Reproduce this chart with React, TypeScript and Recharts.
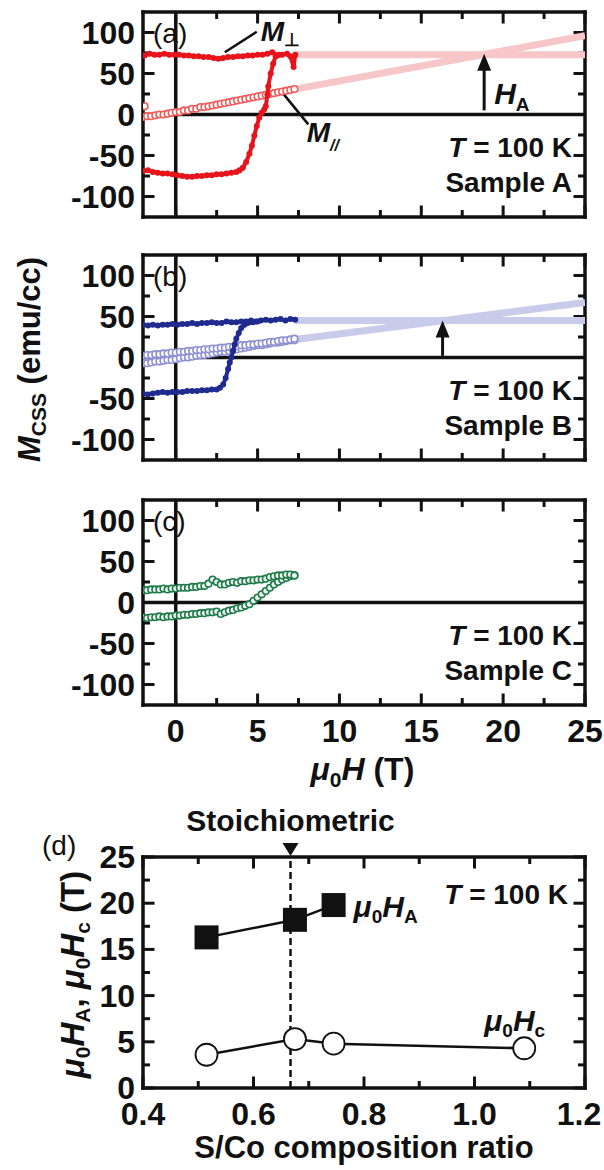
import React from "react";
import { ScatterChart, Scatter, XAxis, YAxis, ReferenceLine, ReferenceDot } from "recharts";

const FONT = "'Liberation Sans', Arial, Helvetica, sans-serif";
const INK = "#111";

// shared axes for panels (a)-(c)
const fieldDomain = [-2, 25];
const momentDomain = [-125, 125];
const fieldTicks = [0, 2.5, 5, 7.5, 10, 12.5, 15, 17.5, 20, 22.5, 25];
const momentTicks = [-100, -75, -50, -25, 0, 25, 50, 75, 100];

// (a) sample A, red
const aDownH = [7.3, 7.2, 7.0, 6.8, 6.5, 6.2, 5.9, 5.6, 5.3, 5.0, 4.7, 4.4, 4.1, 3.8, 3.5, 3.2, 2.9, 2.6, 2.3, 2.0, 1.7, 1.4, 1.1, 0.8, 0.5, 0.2, -0.1, -0.4, -0.7, -1.0, -1.3, -1.6, -1.9, -2.0];
const aDownM = [73, 58, 71, 74, 73, 72, 76, 74, 73, 73, 72, 72, 71, 71, 70, 70, 69, 68, 69, 70, 70, 71, 71, 72, 72, 73, 73, 73, 74, 73, 73, 74, 72, 72];
const aUpH = [-2.0, -1.7, -1.4, -1.1, -0.8, -0.5, -0.2, 0.1, 0.4, 0.7, 1.0, 1.3, 1.6, 1.9, 2.2, 2.5, 2.8, 3.1, 3.4, 3.7, 3.9, 4.1, 4.3, 4.5, 4.65, 4.8, 4.95, 5.1, 5.25, 5.4, 5.5, 5.6, 5.65, 5.8, 5.95, 6.1, 6.3];
const aUpM = [-69, -68, -70, -71, -72, -72, -73, -74, -75, -76, -76, -75, -75, -74, -74, -73, -73, -72, -71, -70, -68, -65, -58, -48, -38, -26, -14, -4, 2, 6, 10, 24, 34, 50, 62, 71, 73];
const aParH = [-2.0, -1.9, -1.75, -1.5, -1.25, -1.0, -0.75, -0.5, -0.25, 0, 0.25, 0.5, 0.75, 1.0, 1.25, 1.5, 1.75, 2.0, 2.25, 2.5, 2.75, 3.0, 3.25, 3.5, 3.75, 4.0, 4.25, 4.5, 4.75, 5.0, 5.25, 5.5, 5.75, 6.0, 6.25, 6.5, 6.75, 7.0, 7.25];
const aParM = [-3, 10, -2, -2, -1, 0, 0, 1, 2, 3, 3, 5, 5, 7, 7, 9, 9, 10, 11, 12, 13, 14, 15, 16, 17, 18, 19, 20, 21, 22, 23, 24, 25, 26, 27, 28, 29, 30, 31];
const aPerpExtH = [7.3, 25];
const aPerpExtM = [73, 73];
const aParExtH = [7.3, 25];
const aParExtM = [31, 96];
const aAnisoField = 18.84;

// (b) sample B, blue
const bDownH = [7.3, 7.0, 6.7, 6.4, 6.1, 5.8, 5.5, 5.2, 4.9, 4.6, 4.3, 4.0, 3.7, 3.4, 3.1, 2.8, 2.5, 2.2, 1.9, 1.6, 1.3, 1.0, 0.7, 0.4, 0.1, -0.2, -0.5, -0.8, -1.1, -1.4, -1.7, -2.0];
const bDownM = [46, 47, 45, 47, 46, 45, 46, 45, 44, 45, 44, 44, 43, 43, 44, 42, 42, 43, 42, 42, 41, 42, 41, 41, 40, 41, 40, 40, 39, 40, 39, 40];
const bUpH = [-2.0, -1.7, -1.4, -1.1, -0.8, -0.5, -0.2, 0.1, 0.4, 0.7, 1.0, 1.3, 1.6, 1.9, 2.2, 2.5, 2.7, 2.9, 3.05, 3.2, 3.3, 3.4, 3.5, 3.6, 3.7, 3.85, 4.0, 4.2, 4.4, 4.7, 5.0];
const bUpM = [-44, -45, -44, -43, -42, -43, -42, -42, -42, -41, -41, -41, -40, -40, -39, -39, -37, -33, -25, -14, -6, 0, 8, 16, 23, 30, 36, 40, 42, 43, 44];
const bParH = [-2.0, -1.75, -1.5, -1.25, -1.0, -0.75, -0.5, -0.25, 0, 0.25, 0.5, 0.75, 1.0, 1.25, 1.5, 1.75, 2.0, 2.25, 2.5, 2.75, 3.0, 3.25, 3.5, 3.75, 4.0, 4.25, 4.5, 4.75, 5.0, 5.25, 5.5, 5.75, 6.0, 6.25, 6.5, 6.75, 7.0, 7.25];
const bParUpM = [2, 3, 3, 4, 4, 5, 5, 6, 6, 7, 7, 8, 8, 9, 9, 10, 10, 11, 11, 12, 12, 13, 13, 14, 15, 15, 16, 16, 17, 17, 18, 19, 19, 20, 21, 21, 22, 23];
const bParLowM = [-7, -7, -6, -5, -5, -4, -3, -3, -2, -1, 0, 0, 1, 2, 3, 3, 4, 5, 6, 7, 7, 8, 9, 10, 11, 12, 13, 14, 15, 15, 16, 17, 18, 18, 19, 20, 21, 21];
const bPerpExtH = [7.3, 25];
const bPerpExtM = [45, 45];
const bParExtH = [7.3, 25];
const bParExtM = [22, 67];
const bAnisoField = 16.3;

// (c) sample C, green
const cH = [-2.0, -1.75, -1.5, -1.25, -1.0, -0.75, -0.5, -0.25, 0, 0.25, 0.5, 0.75, 1.0, 1.25, 1.5, 1.75, 2.0, 2.25, 2.5, 2.75, 3.0, 3.25, 3.5, 3.75, 4.0, 4.25, 4.5, 4.75, 5.0, 5.25, 5.5, 5.75, 6.0, 6.25, 6.5, 6.75, 7.0, 7.25];
const cUpM = [15, 15, 16, 16, 16, 17, 16, 17, 17, 18, 18, 18, 19, 19, 20, 20, 23, 28, 25, 22, 22, 24, 25, 24, 26, 26, 27, 27, 28, 28, 29, 31, 32, 33, 33, 34, 34, 33];
const cLowM = [-18, -19, -18, -18, -17, -18, -17, -17, -16, -16, -15, -15, -14, -14, -13, -13, -12, -12, -11, -14, -12, -10, -9, -7, -6, -4, -2, 2, 6, 10, 14, 18, 22, 25, 28, 30, 32, 33];

// (d) fields vs S/Co ratio
const ratioDomain = [0.4, 1.2];
const dFieldDomain = [0, 25];
const ratioTicks = [0.4, 0.5, 0.6, 0.7, 0.8, 0.9, 1.0, 1.1, 1.2];
const dFieldTicks = [0, 2.5, 5, 7.5, 10, 12.5, 15, 17.5, 20, 22.5, 25];
const haRatio = [0.515, 0.675, 0.745];
const haField = [16.3, 18.2, 19.8];
const hcRatio = [0.515, 0.675, 0.745, 1.09];
const hcField = [3.6, 5.3, 4.8, 4.3];
const stoichRatio = 0.667;

const RED = "#e8141b";
const RED_OPEN = "#ef5a5a";
const PINK = "#f6c6c8";
const BLUE = "#1f2b8f";
const BLUE_OPEN = "#8d91d2";
const LAVENDER = "#c9cbea";
const GREEN = "#1d7a48";

const pts = (h: number[], m: number[]) => h.map((v, i) => ({ h: v, m: m[i] }));
const rpts = (r: number[], f: number[]) => r.map((v, i) => ({ r: v, f: f[i] }));

const BOX = { stroke: INK, strokeWidth: 3.5, strokeLinecap: "square" as const };
const txt = { fontFamily: FONT, fill: INK };

const isMajor = (v: number, step: number) => {
  const q = v / step;
  return Math.abs(q - Math.round(q)) < 1e-6;
};

// tick labels only; the inward tick marks are drawn as reference segments
const mkLabel = (side: "left" | "bottom", step: number, fmt: (v: number) => string, lastShift = 0) => (props: any) => {
  const { x, y, payload } = props;
  const v = payload.value as number;
  if (!isMajor(v, step)) return <g />;
  if (side === "left")
    return <text x={x - 8} y={y + 11} textAnchor="end" fontSize={32} fontWeight="bold" {...txt}>{fmt(v)}</text>;
  const shift = props.index === props.visibleTicksCount - 1 ? lastShift : 0;
  return <text x={x + shift} y={y + 37} textAnchor="middle" fontSize={32} fontWeight="bold" {...txt}>{fmt(v)}</text>;
};

// inward ticks on all four sides; pxX/pxY = pixels per data unit
const edgeTicks = (xs: number[], xStep: number, xDom: number[], ys: number[], yStep: number, yDom: number[], pxX: number, pxY: number) => {
  const out: React.ReactNode[] = [];
  xs.forEach((v) => {
    const len = (isMajor(v, xStep) ? 11.5 : 7) / pxY;
    out.push(<ReferenceLine key={`xb${v}`} segment={[{ x: v, y: yDom[0] }, { x: v, y: yDom[0] + len }]} stroke={INK} strokeWidth={3} />);
    out.push(<ReferenceLine key={`xt${v}`} segment={[{ x: v, y: yDom[1] }, { x: v, y: yDom[1] - len }]} stroke={INK} strokeWidth={3} />);
  });
  ys.forEach((v) => {
    const len = (isMajor(v, yStep) ? 11.5 : 7) / pxX;
    out.push(<ReferenceLine key={`yl${v}`} segment={[{ x: xDom[0], y: v }, { x: xDom[0] + len, y: v }]} stroke={INK} strokeWidth={3} />);
    out.push(<ReferenceLine key={`yr${v}`} segment={[{ x: xDom[1], y: v }, { x: xDom[1] - len, y: v }]} stroke={INK} strokeWidth={3} />);
  });
  return out;
};

const note = (key: string, x: number, y: number, draw: (cx: number, cy: number) => React.ReactNode) => (
  <ReferenceDot key={key} x={x} y={y} r={1} fill="none" stroke="none" ifOverflow="visible"
    shape={(p: any) => <g>{draw(p.cx, p.cy)}</g>} />
);

const filled = (r: number, color: string) => (p: any) => <circle cx={p.cx} cy={p.cy} r={r} fill={color} />;
const hollow = (r: number, color: string, fill = "#fff") => (p: any) =>
  <circle cx={p.cx} cy={p.cy} r={r} fill={fill} stroke={color} strokeWidth={1.6} />;
const nothing = () => <g />;

const arrowHead = (cx: number, cy: number) => (
  <polygon points={`${cx},${cy} ${cx - 7},${cy + 17} ${cx + 7},${cy + 17}`} fill={INK} />
);

function FieldPanel({ height, padTop, axisHeight, tag, sample, xLabels, children }: any) {
  return (
    <ScatterChart width={604} height={height} margin={{ top: padTop - 1, right: 18, bottom: 0, left: 0 }}>
      <XAxis dataKey="h" type="number" domain={fieldDomain} allowDataOverflow ticks={fieldTicks} interval={0}
        height={axisHeight} tickSize={0} tickMargin={0} tickLine={false} axisLine={BOX}
        tick={xLabels ? mkLabel("bottom", 5, (v) => String(v)) : false} />
      <XAxis xAxisId="top" orientation="top" type="number" domain={fieldDomain} allowDataOverflow
        height={1} tickLine={false} axisLine={BOX} tick={false} />
      <YAxis dataKey="m" type="number" domain={momentDomain} allowDataOverflow ticks={momentTicks} interval={0}
        width={143} tickSize={0} tickMargin={0} tickLine={false} axisLine={BOX}
        tick={mkLabel("left", 50, (v) => String(v))} />
      <YAxis yAxisId="right" orientation="right" type="number" domain={momentDomain} allowDataOverflow
        width={1} tickLine={false} axisLine={BOX} tick={false} />
      {edgeTicks(fieldTicks, 5, fieldDomain, momentTicks, 50, momentDomain, 441 / 27, 205 / 250)}
      <ReferenceLine x={0} stroke={INK} strokeWidth={3.5} />
      <ReferenceLine y={0} stroke={INK} strokeWidth={3.5} />
      {children}
      {note("tag", -2, 125, (cx, cy) => (
        <text x={cx + 10} y={cy + 31} fontSize={28} {...txt}>{tag}</text>
      ))}
      {note("temp", 25, -125, (cx, cy) => (
        <text x={cx - 13} y={cy - 60} fontSize={28} fontWeight="bold" textAnchor="end" {...txt}>
          <tspan fontStyle="italic">T</tspan> = 100 K
        </text>
      ))}
      {note("sample", 25, -125, (cx, cy) => (
        <text x={cx - 13} y={cy - 25} fontSize={28} fontWeight="bold" textAnchor="end" {...txt}>{sample}</text>
      ))}
    </ScatterChart>
  );
}

function PanelA() {
  return (
    <FieldPanel height={240} padTop={12} axisHeight={23} tag="(a)" sample="Sample A">
      <Scatter data={pts(aPerpExtH, aPerpExtM)} line={{ stroke: PINK, strokeWidth: 7 }} shape={nothing} isAnimationActive={false} />
      <Scatter data={pts(aParExtH, aParExtM)} line={{ stroke: PINK, strokeWidth: 7 }} shape={nothing} isAnimationActive={false} />
      <Scatter data={pts(aParH, aParM)} shape={hollow(3.3, RED_OPEN)} isAnimationActive={false} />
      <Scatter data={pts(aDownH, aDownM)} line={{ stroke: RED, strokeWidth: 4 }} shape={filled(3, RED)} isAnimationActive={false} />
      <Scatter data={pts(aUpH, aUpM)} line={{ stroke: RED, strokeWidth: 4 }} shape={filled(3, RED)} isAnimationActive={false} />
      <ReferenceLine segment={[{ x: aAnisoField, y: 5 }, { x: aAnisoField, y: 58 }]} stroke={INK} strokeWidth={3} />
      {note("headA", aAnisoField, 74, arrowHead)}
      <ReferenceLine segment={[{ x: 3.0, y: 76 }, { x: 4.95, y: 101 }]} stroke={INK} strokeWidth={2.5} />
      <ReferenceLine segment={[{ x: 6.5, y: 27 }, { x: 8.1, y: -12 }]} stroke={INK} strokeWidth={2.5} />
      {note("mperp", 5.2, 90, (cx, cy) => (
        <text x={cx} y={cy} fontSize={28} fontWeight="bold" {...txt}>
          <tspan fontStyle="italic">M</tspan><tspan fontSize={18} dy={5}>⊥</tspan>
        </text>
      ))}
      {note("mpar", 8.0, -34, (cx, cy) => (
        <text x={cx} y={cy} fontSize={28} fontWeight="bold" {...txt}>
          <tspan fontStyle="italic">M</tspan><tspan fontSize={16} dy={9} fontStyle="italic">//</tspan>
        </text>
      ))}
      {note("ha", 19.45, 13, (cx, cy) => (
        <text x={cx} y={cy} fontSize={30} fontWeight="bold" {...txt}>
          <tspan fontStyle="italic">H</tspan><tspan fontSize={19} dy={7}>A</tspan>
        </text>
      ))}
    </FieldPanel>
  );
}

function PanelB() {
  return (
    <FieldPanel height={245} padTop={15} axisHeight={25} tag="(b)" sample="Sample B">
      <Scatter data={pts(bPerpExtH, bPerpExtM)} line={{ stroke: LAVENDER, strokeWidth: 7 }} shape={nothing} isAnimationActive={false} />
      <Scatter data={pts(bParExtH, bParExtM)} line={{ stroke: LAVENDER, strokeWidth: 7 }} shape={nothing} isAnimationActive={false} />
      <Scatter data={pts(bParH, bParLowM)} shape={hollow(3.3, BLUE_OPEN)} isAnimationActive={false} />
      <Scatter data={pts(bParH, bParUpM)} shape={hollow(3.3, BLUE_OPEN)} isAnimationActive={false} />
      <Scatter data={pts(bDownH, bDownM)} line={{ stroke: BLUE, strokeWidth: 4 }} shape={filled(3, BLUE)} isAnimationActive={false} />
      <Scatter data={pts(bUpH, bUpM)} line={{ stroke: BLUE, strokeWidth: 4 }} shape={filled(3, BLUE)} isAnimationActive={false} />
      <ReferenceLine segment={[{ x: bAnisoField, y: 2 }, { x: bAnisoField, y: 28 }]} stroke={INK} strokeWidth={3} />
      {note("headB", bAnisoField, 45, arrowHead)}
      {note("ylabel", -2, 0, (cx, cy) => (
        <text transform={`translate(${cx - 103},${cy + 2}) rotate(-90)`} textAnchor="middle" fontSize={31}
          fontWeight="bold" {...txt}>
          <tspan fontStyle="italic">M</tspan><tspan fontSize={21} dy={6}>CSS</tspan><tspan dy={-6}> (emu/cc)</tspan>
        </text>
      ))}
    </FieldPanel>
  );
}

function PanelC() {
  return (
    <FieldPanel height={310} padTop={15} axisHeight={90} tag="(c)" sample="Sample C" xLabels>
      <Scatter data={pts(cH, cLowM)} shape={hollow(3.3, GREEN, "#eef6f0")} isAnimationActive={false} />
      <Scatter data={pts(cH, cUpM)} shape={hollow(3.3, GREEN, "#eef6f0")} isAnimationActive={false} />
      {note("xlabel", 11.4, -125, (cx, cy) => (
        <text x={cx} y={cy + 75} textAnchor="middle" fontSize={32} fontWeight="bold" {...txt}>
          <tspan fontStyle="italic">μ</tspan><tspan fontSize={21} dy={7}>0</tspan>
          <tspan fontStyle="italic" dy={-7}>H</tspan> (T)
        </text>
      ))}
    </FieldPanel>
  );
}

const square = (p: any) => <rect x={p.cx - 12} y={p.cy - 12} width={24} height={24} fill={INK} />;
const bigCircle = (p: any) => <circle cx={p.cx} cy={p.cy} r={11} fill="#fff" stroke={INK} strokeWidth={1.8} />;

function PanelD() {
  return (
    <ScatterChart width={604} height={375} margin={{ top: 61, right: 18, bottom: 0, left: 0 }}>
      <XAxis dataKey="r" type="number" domain={ratioDomain} allowDataOverflow ticks={ratioTicks} interval={0}
        height={82} tickSize={0} tickMargin={0} tickLine={false} axisLine={BOX}
        tick={mkLabel("bottom", 0.2, (v) => v.toFixed(1), -6)} />
      <XAxis xAxisId="top" orientation="top" type="number" domain={ratioDomain} allowDataOverflow
        height={1} tickLine={false} axisLine={BOX} tick={false} />
      <YAxis dataKey="f" type="number" domain={dFieldDomain} allowDataOverflow ticks={dFieldTicks} interval={0}
        width={143} tickSize={0} tickMargin={0} tickLine={false} axisLine={BOX}
        tick={mkLabel("left", 5, (v) => String(v))} />
      <YAxis yAxisId="right" orientation="right" type="number" domain={dFieldDomain} allowDataOverflow
        width={1} tickLine={false} axisLine={BOX} tick={false} />
      {edgeTicks(ratioTicks, 0.2, ratioDomain, dFieldTicks, 5, dFieldDomain, 441 / 0.8, 231 / 25)}
      <Scatter data={rpts(hcRatio, hcField)} line={{ stroke: INK, strokeWidth: 2.5 }} shape={bigCircle} isAnimationActive={false} />
      <Scatter data={rpts(haRatio, haField)} line={{ stroke: INK, strokeWidth: 2.5 }} shape={square} isAnimationActive={false} />
      <ReferenceLine x={stoichRatio} stroke={INK} strokeWidth={2.5} strokeDasharray="7 4" />
      {note("tri", stoichRatio, 25, (cx, cy) => (
        <polygon points={`${cx - 8},${cy - 14} ${cx + 8},${cy - 14} ${cx},${cy - 1}`} fill={INK} />
      ))}
      {note("stoich", stoichRatio, 25, (cx, cy) => (
        <text x={cx} y={cy - 26} textAnchor="middle" fontSize={30} fontWeight="bold" {...txt}>Stoichiometric</text>
      ))}
      {note("tagd", 0.4, 25, (cx, cy) => (
        <text x={cx - 101} y={cy - 2} fontSize={28} {...txt}>(d)</text>
      ))}
      {note("tempd", 1.2, 25, (cx, cy) => (
        <text x={cx - 17} y={cy + 47} textAnchor="end" fontSize={28} fontWeight="bold" {...txt}>
          <tspan fontStyle="italic">T</tspan> = 100 K
        </text>
      ))}
      {note("haLbl", haRatio[2], haField[2], (cx, cy) => (
        <text x={cx + 20} y={cy + 12} fontSize={30} fontWeight="bold" {...txt}>
          <tspan fontStyle="italic">μ</tspan><tspan fontSize={19} dy={6}>0</tspan>
          <tspan fontStyle="italic" dy={-6}>H</tspan><tspan fontSize={19} dy={6}>A</tspan>
        </text>
      ))}
      {note("hcLbl", hcRatio[3], hcField[3], (cx, cy) => (
        <text x={cx - 40} y={cy - 17} fontSize={30} fontWeight="bold" {...txt}>
          <tspan fontStyle="italic">μ</tspan><tspan fontSize={19} dy={6}>0</tspan>
          <tspan fontStyle="italic" dy={-6}>H</tspan><tspan fontSize={19} dy={6}>c</tspan>
        </text>
      ))}
      {note("ylab", 0.4, 12.5, (cx, cy) => (
        <text transform={`translate(${cx - 59},${cy + 2}) rotate(-90)`} textAnchor="middle" fontSize={33}
          fontWeight="bold" {...txt}>
          <tspan fontStyle="italic">μ</tspan><tspan fontSize={21} dy={6}>0</tspan>
          <tspan fontStyle="italic" dy={-6}>H</tspan><tspan fontSize={21} dy={6}>A</tspan>
          <tspan dy={-6}>, </tspan><tspan fontStyle="italic">μ</tspan><tspan fontSize={21} dy={6}>0</tspan>
          <tspan fontStyle="italic" dy={-6}>H</tspan><tspan fontSize={21} dy={6}>c</tspan>
          <tspan dy={-6}> (T)</tspan>
        </text>
      ))}
      {note("xlab", 0.8, 0, (cx, cy) => (
        <text x={cx} y={cy + 70} textAnchor="middle" fontSize={31} fontWeight="bold" {...txt}>S/Co composition ratio</text>
      ))}
    </ScatterChart>
  );
}

export default function App() {
  return (
    <div style={{ position: "absolute", left: 0, top: 0, width: 604, height: 1170, background: "#fff", overflow: "hidden" }}>
      <PanelA />
      <PanelB />
      <PanelC />
      <PanelD />
    </div>
  );
}
